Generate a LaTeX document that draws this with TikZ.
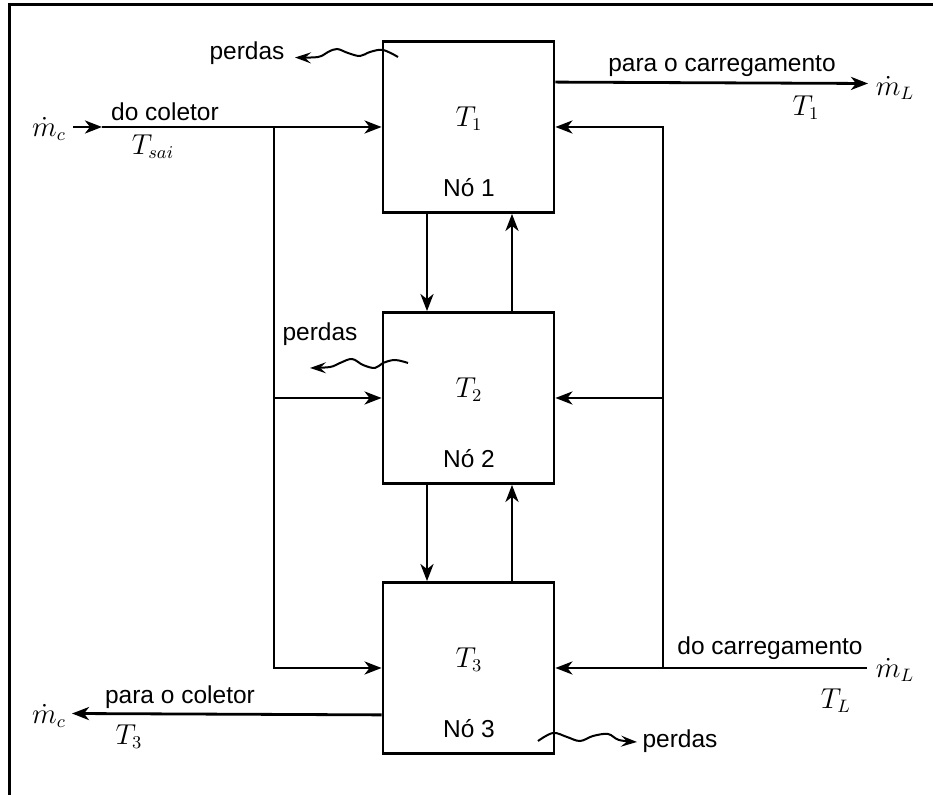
\documentclass[tikz,border=0pt]{standalone}
\usepackage{fontspec}
\setmainfont{Liberation Sans}
\usetikzlibrary{arrows.meta,calc}
\begin{document}
\begin{tikzpicture}[x=0.5pt,y=-0.5pt,
  every node/.style={font=\fontsize{12.25}{14}\selectfont, inner sep=0pt},
  mathlabel/.style={font=\fontsize{13.5}{16}\selectfont},
  nodebox/.style={draw, line width=1.4pt, minimum width=85.5pt, minimum height=85.5pt, inner sep=0pt},
  flow/.style={line width=1.4pt, -{Stealth[length=8.5pt,width=6.5pt,inset=2.5pt]}},
  wave/.style={line width=1pt, -{Stealth[length=8pt,width=5.5pt,inset=3pt]}}]
\useasboundingbox (0,0) rectangle (933,795);

% outer frame
\draw[line width=1.5pt] (9,795) -- (9,5) -- (933,5);

% the three nodes of the tank
\node[nodebox] (b1) at (468.5,127) {};
\node[nodebox] (b2) at (468.5,398) {};
\node[nodebox] (b3) at (468.5,668) {};
\node[mathlabel] (t1) at (469,119) {$T_1$};
\node (n1) at (469,188) {Nó 1};
\node[mathlabel] (t2) at (469,390) {$T_2$};
\node (n2) at (469,459) {Nó 2};
\node[mathlabel] (t3) at (469,660) {$T_3$};
\node (n3) at (469,729) {Nó 3};

% collector inlet
\node[mathlabel] (mc1) at (49,129) {$\dot{m}_c$};
\node (docol) at (165,112) {do coletor};
\node[mathlabel] (tsai) at (153,147) {$T_{sai}$};
\coordinate (cin) at (73,127);
\coordinate (cmid) at (102,127);
\coordinate (jl1) at (274,127);
\coordinate (jl2) at (274,398);
\coordinate (jl3) at (274,668);
\draw[flow] (cin) -- (cmid);
\draw[flow] (cmid) -- (b1.west);
\draw[flow] (jl1) -- (jl3) -- (b3.west);
\draw[flow] (jl2) -- (b2.west);

% load outlet
\node (parac) at (722,66) {para o carregamento};
\node[mathlabel] (ml1) at (895,88) {$\dot{m}_L$};
\node[mathlabel] (tl1) at (806,108) {$T_1$};
\coordinate (lout) at (868,83.5);
\draw[flow] ($(b1.north east)+(0,42)$) -- (lout);

% load return
\node (docar) at (770,648) {do carregamento};
\node[mathlabel] (ml2) at (895,670) {$\dot{m}_L$};
\node[mathlabel] (tl2) at (836,701) {$T_L$};
\coordinate (lin) at (867,668);
\coordinate (jr1) at (663,127);
\coordinate (jr2) at (663,398);
\coordinate (jr3) at (663,668);
\draw[flow] (lin) -- (b3.east);
\draw[flow] (jr3) -- (jr1) -- (b1.east);
\draw[flow] (jr2) -- (b2.east);

% collector outlet
\node (parcol) at (180,697) {para o coletor};
\node[mathlabel] (mc2) at (49,716) {$\dot{m}_c$};
\node[mathlabel] (t3b) at (129,737) {$T_3$};
\coordinate (cout) at (72,713.5);
\draw[flow] ($(b3.south west)+(0,-40)$) -- (cout);

% exchange between nodes
\draw[flow] ($(b1.south)+(-41.5,0)$) -- ($(b2.north)+(-41.5,0)$);
\draw[flow] ($(b2.north)+(43.5,0)$) -- ($(b1.south)+(43.5,0)$);
\draw[flow] ($(b2.south)+(-41.5,0)$) -- ($(b3.north)+(-41.5,0)$);
\draw[flow] ($(b3.north)+(43.5,0)$) -- ($(b2.south)+(43.5,0)$);

% heat losses
\node (p1) at (247,53) {perdas};
\node (p2) at (320,334) {perdas};
\node (p3) at (680,741) {perdas};
\draw[wave] plot[smooth, tension=0.6] coordinates
  {(398,57) (383,50) (370,52) (360,56) (348,53) (337,49) (328,52) (318,57) (295,57.5)};
\draw[wave] plot[smooth, tension=0.6] coordinates
  {(408,363) (395,360) (383,363) (375,368) (363,365) (352,359) (340,363) (330,367) (310,368)};
\draw[wave] plot[smooth, tension=0.6] coordinates
  {(538,741) (553,733) (567,737) (580,741) (593,736) (608,734) (619,740) (637,742)};
\end{tikzpicture}
\end{document}
